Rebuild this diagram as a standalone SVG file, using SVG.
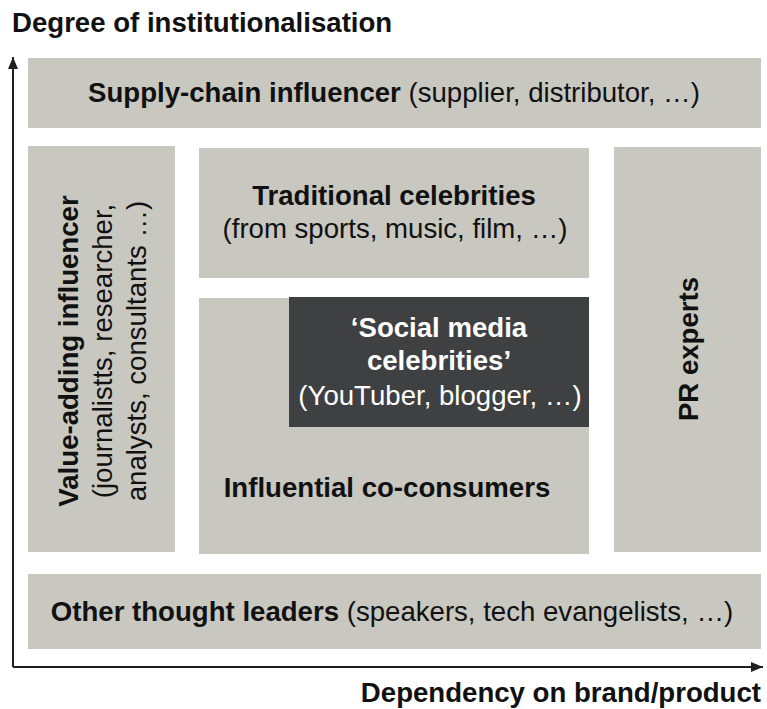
<svg xmlns="http://www.w3.org/2000/svg" width="767" height="709" viewBox="0 0 767 709">
<defs>
<style>
text{font-family:"Liberation Sans",Arial,sans-serif;font-size:27.6px;fill:#111;}
.b{font-weight:bold;}
.box{fill:#c8c7c0;}
.dark{fill:#3e4042;}
.w{fill:#fff;}
.axis{stroke:#1e1e1e;stroke-width:2;fill:none;}
</style>
<marker id="ah" viewBox="0 0 12 10" refX="12" refY="5" markerWidth="12" markerHeight="10" markerUnits="userSpaceOnUse" orient="auto">
<path d="M0,0 L12,5 L0,10 z" fill="#1e1e1e"/>
</marker>
</defs>
<rect width="767" height="709" fill="#fff"/>

<g id="axis-labels">
<text class="b" x="12" y="32">Degree of institutionalisation</text>
<text class="b" x="761" y="702" text-anchor="end">Dependency on brand/product</text>
</g>

<g id="connectors">
<path class="axis" d="M13,667 V57" marker-end="url(#ah)"/>
<path class="axis" d="M13,667 H763" marker-end="url(#ah)"/>
</g>

<g id="supply-chain">
<rect class="box" x="28" y="58" width="733" height="70"/>
<text x="394" y="102" text-anchor="middle"><tspan class="b">Supply-chain influencer</tspan> (supplier, distributor, …)</text>
</g>

<g id="value-adding">
<rect class="box" x="28" y="146" width="147" height="406"/>
<g transform="translate(0,351) rotate(-90)" text-anchor="middle">
<text class="b" x="0" y="78">Value-adding influencer</text>
<text x="0" y="112">(journalistts, researcher,</text>
<text x="0" y="146">analysts, consultants …)</text>
</g>
</g>

<g id="traditional">
<rect class="box" x="199" y="148" width="390" height="130"/>
<text class="b" x="394" y="205" text-anchor="middle">Traditional celebrities</text>
<text x="395" y="238" text-anchor="middle">(from sports, music, film, …)</text>
</g>

<g id="co-consumers">
<rect class="box" x="199" y="298" width="390" height="256"/>
<text class="b" x="387" y="497" text-anchor="middle">Influential co-consumers</text>
</g>

<g id="social-media">
<rect class="dark" x="289" y="297" width="300" height="130"/>
<text class="b w" x="439" y="337" text-anchor="middle">‘Social media</text>
<text class="b w" x="439" y="370" text-anchor="middle">celebrities’</text>
<text class="w" x="440" y="405" text-anchor="middle">(YouTuber, blogger, …)</text>
</g>

<g id="pr-experts">
<rect class="box" x="614" y="147" width="147" height="405"/>
<text class="b" transform="translate(698,349) rotate(-90)" x="0" y="0" text-anchor="middle">PR experts</text>
</g>

<g id="thought-leaders">
<rect class="box" x="28" y="574" width="733" height="75"/>
<text x="392" y="621" text-anchor="middle"><tspan class="b">Other thought leaders</tspan> (speakers, tech evangelists, …)</text>
</g>
</svg>
